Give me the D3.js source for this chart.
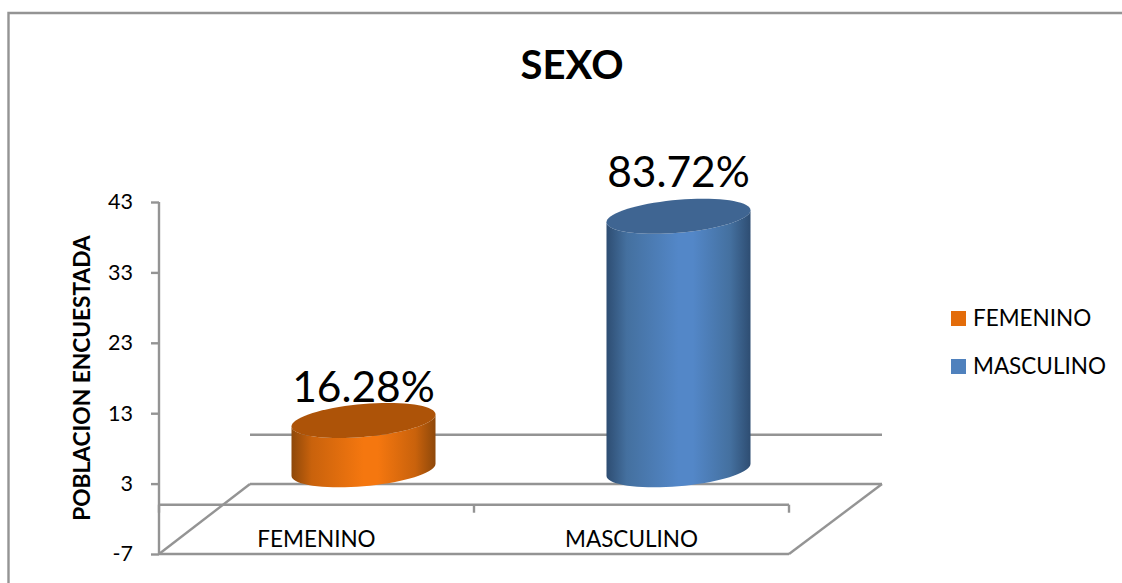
<!DOCTYPE html>
<html><head><meta charset="utf-8">
<script src="https://cdn.jsdelivr.net/npm/d3@7"></script>
<style>html,body{margin:0;padding:0;background:#fff}svg{display:block}text{font-family:Lato,"Open Sans",sans-serif;fill:#000}</style>
</head><body><div id="c"></div>
<script>
const categories = ["FEMENINO","MASCULINO"];
const values = [7,36];
const percentLabels = ["16.28%","83.72%"];
const yTicks = [-7,3,13,23,33,43];
const titleText = "SEXO";
const yTitle = "POBLACION ENCUESTADA";
const palette = {
  FEMENINO:{edge:"#8e480a",mid:"#c9620c",light:"#f5770f",top:"#ad5308",key:"#e36c0a"},
  MASCULINO:{edge:"#2e4d72",mid:"#44709f",light:"#5387c8",top:"#3f6592",key:"#4f81bd"}
};
const W=1122,H=583, gray="#949494", sw=2.4;
const svg=d3.select("#c").append("svg").attr("width",W).attr("height",H);
const y=d3.scaleLinear().domain([-7,43]).range([554,202]);
const x=d3.scaleBand().domain(categories).range([159,789]);
const depthX=91, depthY=-70;

// gradients
const defs=svg.append("defs");
categories.forEach((c,i)=>{
  const p=palette[c];
  const g=defs.append("linearGradient").attr("id","g"+i).attr("x1",0).attr("x2",1).attr("y1",0).attr("y2",0);
  [[0,p.edge],[.14,p.mid],[.5,p.light],[.6,p.light],[.86,p.mid],[1,p.edge]].forEach(s=>g.append("stop").attr("offset",s[0]).attr("stop-color",s[1]));
});

// frame
svg.append("path").attr("d",`M8.5,583V13H1122`).attr("fill","none").attr("stroke",gray).attr("stroke-width",sw);

const line=(a,b,c,d,w)=>svg.append("line").attr("x1",a).attr("y1",b).attr("x2",c).attr("y2",d).attr("stroke",gray).attr("stroke-width",w||sw);
const x0=x.range()[0],x1=x.range()[1];
// back wall zero line and floor
line(x0+depthX,y(0)+depthY,x1+depthX+2,y(0)+depthY);
line(x0+depthX,y(-7)+depthY,x1+depthX+2,y(-7)+depthY);
line(x0,y(-7),x1,y(-7));
line(x0,y(-7),x0+depthX,y(-7)+depthY);
line(x1,y(-7),x1+depthX+2,y(-7)+depthY);
// value axis
const ya=svg.append("g").attr("transform",`translate(${x0},0)`).call(d3.axisLeft(y).tickValues(yTicks).tickSize(8).tickPadding(18).tickFormat(d=>String(d)));
ya.selectAll("path,line").attr("stroke",gray).attr("stroke-width",sw);
ya.select("path").attr("d",`M0,${y(43)}V${y(-7)}`);
ya.selectAll("text").attr("font-size",21.5).style("font-family","Lato").attr("fill","#000");
// category axis at zero
const xa=svg.append("g").attr("transform",`translate(0,${y(0)})`);
xa.append("line").attr("x1",x0).attr("x2",x1).attr("stroke",gray).attr("stroke-width",sw);
[x0,x.step()+x0,x1].forEach(t=>xa.append("line").attr("x1",t).attr("x2",t).attr("y1",0).attr("y2",8).attr("stroke",gray).attr("stroke-width",sw));
svg.selectAll(".cat").data(categories).join("text").attr("class","cat")
  .attr("x",d=>x(d)+x.bandwidth()/2).attr("y",547).attr("text-anchor","middle").attr("font-size",22.5).text(d=>d);

// cylinders
const rx=x.bandwidth()*0.2286, tilt=-6, ryv=16.5;
const cx=d=>x(d)+x.bandwidth()/2+depthX/2+1.5;
const ell=(c,cy,t)=>[c+rx*Math.cos(t),cy+ryv*Math.sin(t)+tilt*Math.cos(t)];
const ang=d3.range(0,73).map(i=>i/72*2*Math.PI);
const ln=d3.line();
const labelLift={FEMENINO:18,MASCULINO:29};
categories.forEach((c,i)=>{
  const base=y(0)+depthY/2, top=y(values[i])+depthY/2;
  const px=cx(c);
  const lower=ang.filter(t=>t<=Math.PI+1e-9).map(t=>ell(px,base,t));
  const upper=ang.filter(t=>t<=Math.PI+1e-9).map(t=>ell(px,top,t)).reverse();
  svg.append("path").attr("d",ln(lower.concat(upper))+"Z").attr("fill",`url(#g${i})`);
  svg.append("path").attr("d",ln(ang.map(t=>ell(px,top,t)))+"Z").attr("fill",palette[c].top);
  svg.append("text").attr("x",px).attr("y",top-labelLift[c]).attr("text-anchor","middle").attr("font-size",42.5).text(percentLabels[i]);
});

// title
svg.append("text").attr("x",572).attr("y",79).attr("text-anchor","middle").attr("font-size",40).attr("font-weight",700).text(titleText);
svg.append("text").attr("transform","translate(90,378) rotate(-90)").attr("text-anchor","middle").attr("font-size",22.7).attr("font-weight",700).text(yTitle);

// legend
const ly=d3.scalePoint().domain(categories).range([318.5,366.5]);
categories.forEach(c=>{
  svg.append("rect").attr("x",951).attr("y",ly(c)-7.5).attr("width",15).attr("height",15).attr("fill",palette[c].key);
  svg.append("text").attr("x",973).attr("y",ly(c)+7).attr("font-size",22.5).text(c);
});
</script></body></html>
